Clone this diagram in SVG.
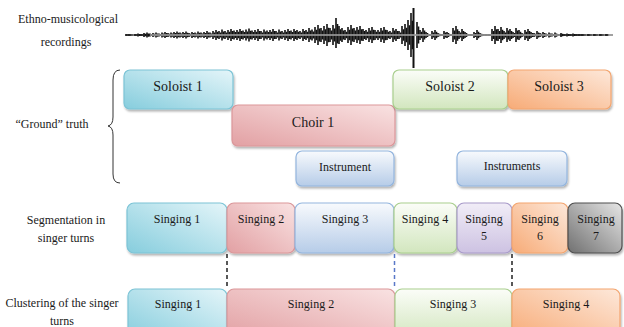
<svg xmlns="http://www.w3.org/2000/svg" width="624" height="327" viewBox="0 0 624 327">
<style>
.t{font-size:12px;fill:#1a1a1a;text-anchor:middle}
.b{font-size:14px}
.box{stroke-width:1.2;filter:url(#sh)}
.dash{fill:none;stroke-width:1.5;stroke-dasharray:4 3}
</style>
<defs>
<filter id="sh" x="-10%" y="-10%" width="120%" height="130%"><feDropShadow dx="1" dy="2" stdDeviation="1.2" flood-color="#000" flood-opacity="0.3"/></filter>
<linearGradient id="gC" x1="0" y1="1" x2="1" y2="0"><stop offset="0" stop-color="#86cddd"/><stop offset="1" stop-color="#e4f5f9"/></linearGradient>
<linearGradient id="gR" x1="0" y1="1" x2="1" y2="0"><stop offset="0" stop-color="#e2a0a3"/><stop offset="1" stop-color="#f9e2e2"/></linearGradient>
<linearGradient id="gB" x1="0" y1="0" x2="0" y2="1"><stop offset="0" stop-color="#f8fafd"/><stop offset="1" stop-color="#b6cce8"/></linearGradient>
<linearGradient id="gG" x1="0" y1="0" x2="0" y2="1"><stop offset="0" stop-color="#fbfdf8"/><stop offset="1" stop-color="#d2e6be"/></linearGradient>
<linearGradient id="gP" x1="0" y1="0" x2="0" y2="1"><stop offset="0" stop-color="#f1edf7"/><stop offset="1" stop-color="#cdc2e2"/></linearGradient>
<linearGradient id="gO" x1="0" y1="1" x2="1" y2="0"><stop offset="0" stop-color="#f7ab77"/><stop offset="1" stop-color="#fde8da"/></linearGradient>
<linearGradient id="gK" x1="0" y1="1" x2="1" y2="0"><stop offset="0" stop-color="#707070"/><stop offset="1" stop-color="#e6e6e6"/></linearGradient>
<path id="wv" fill="none" d="M126 34v2M129 34v2M132 34.5v1M135 34v2M138 33.5v3M141 34v2M144 33v4M147 32.5v5M150 33.5v3M153 33v4M156 32.5v5M159 33.5v3M162 32.5v5M165 32v6M168 33v4M171 32.5v5M174 32v6M177 31.5v7M180 32.5v5M183 32v6M186 31.5v7M189 33v4M192 32v6M195 32.5v5M198 31.5v7M201 32.5v5M204 32v6M207 31v8M210 32.5v5M213 31v8M216 30v10M219 31v8M222 29.5v11M225 31v8M228 30v10M231 29v12M234 30.5v9M237 30v10M240 29v12M243 30.5v9M246 29.5v11M249 28.5v13M252 30.5v9M255 30v10M258 29v12M261 31v8M264 29.5v11M267 30.5v9M270 30v10M273 29v12M276 31v8M279 29.5v11M282 31v8M285 30v10M288 29v12M291 30.5v9M294 29v12M297 30v10M300 31v8M303 29v12M306 30v10M309 28v14M312 29.5v11M315 27v16M318 25v20M321 28v14M324 26v18M327 24v22M330 28v14M333 25v20M336 18v30M339 26v18M342 28v14M345 30v10M348 27v16M351 25v20M354 28v14M357 27v16M360 26v18M363 29v12M366 30v10M369 28v14M372 27v16M375 30v10M378 30v10M381 28v14M384 27v16M387 30v10M390 31v8M393 28v14M396 29v12M399 31v8M402 26v18M405 24v22M408 20v30M411 13v44M417 22v26M420 30v10M423 28v14M426 32v6M429 34v2M432 31v8M435 30v10M438 33v4M441 34v2M444 31v8M447 32v6M450 34v2M453 28v14M456 26v18M459 31v8M462 29v12M465 32v6M468 34v2M471 34v2M474 32v6M477 30v10M480 33v4M483 34v2M486 34v2M489 34v2M492 29v12M495 26v18M498 29v12M501 27v16M504 31v8M507 28v14M510 29v12M513 32v6M516 28v14M519 30v10M522 33v4M525 30v10M528 29v12M531 32v6M534 33v4M537 31v8M540 33v4M543 32v6M546 33.5v3M549 32.5v5M552 33.5v3M555 32.5v5M558 34v2M561 33v4M564 34v2M567 33.5v3M570 34v2M573 33.5v3M576 34v2M579 34v2M582 34v2M585 34.5v1M588 34v2M591 34.5v1M594 34v2M597 34.5v1M600 34v2M603 34.5v1M606 34v2"/>
</defs>

<g id="waveform">
<path d="M126 35H613" stroke="#444" stroke-width="1.2"/>
<use href="#wv" stroke="#111" stroke-width="1.6"/>
<use href="#wv" stroke="#111" stroke-width="1.6" transform="translate(1.5,35) scale(1,0.65) translate(0,-35)"/>
<path d="M413.5 8V68" stroke="#111" stroke-width="2"/>
<path d="M150 35H560" stroke="#a8a8a8" stroke-width="1.3"/>
</g>

<g id="labels" font-family="'Liberation Serif', 'Times New Roman', serif" font-size="12" fill="#1a1a1a" text-anchor="middle">
<text x="68" y="23">Ethno-musicological</text>
<text x="66" y="46">recordings</text>
<text x="52" y="128">“Ground” truth</text>
<text x="66" y="224">Segmentation in</text>
<text x="66" y="242">singer turns</text>
<text x="62" y="307">Clustering of the singer</text>
<text x="62" y="325">turns</text>
<path d="M120 70 Q113 70 113 80 L113 117 Q113 125 108 126 Q113 127 113 135 L113 174 Q113 183 120 183" fill="none" stroke="#333" stroke-width="1"/>
</g>

<g id="connectors">
<path class="dash" d="M227 254V289" stroke="#222"/>
<path class="dash" d="M394.5 254V289" stroke="#5a78c8"/>
<path class="dash" d="M512 254V289" stroke="#222"/>
</g>

<g id="nodes" font-family="'Liberation Serif', 'Times New Roman', serif">
<g id="soloist1"><rect class="box" x="124" y="70" width="109" height="39" rx="6" fill="url(#gC)" stroke="#7cc4d6"/><text class="t b" x="178" y="91">Soloist 1</text></g>
<g id="choir1"><rect class="box" x="232" y="105" width="163" height="41" rx="6" fill="url(#gR)" stroke="#db979a"/><text class="t b" x="313" y="127">Choir 1</text></g>
<g id="instrument"><rect class="box" x="296" y="151" width="98" height="35" rx="6" fill="url(#gB)" stroke="#93b5de"/><text class="t" x="345" y="171">Instrument</text></g>
<g id="soloist2"><rect class="box" x="393" y="70" width="115" height="39" rx="6" fill="url(#gG)" stroke="#a9cf8e"/><text class="t b" x="450" y="91">Soloist 2</text></g>
<g id="soloist3"><rect class="box" x="508" y="70" width="103" height="39" rx="6" fill="url(#gO)" stroke="#f3a56f"/><text class="t b" x="559" y="91">Soloist 3</text></g>
<g id="instruments"><rect class="box" x="457" y="151" width="110" height="35" rx="6" fill="url(#gB)" stroke="#93b5de"/><text class="t" x="512" y="170">Instruments</text></g>

<g id="seg1"><rect class="box" x="127" y="203" width="100" height="50" rx="7" fill="url(#gC)" stroke="#7cc4d6"/><text class="t" x="177" y="223">Singing 1</text></g>
<g id="seg2"><rect class="box" x="227" y="203" width="68" height="50" rx="7" fill="url(#gR)" stroke="#db979a"/><text class="t" x="261" y="223">Singing 2</text></g>
<g id="seg3"><rect class="box" x="295" y="203" width="99" height="50" rx="7" fill="url(#gB)" stroke="#93b5de"/><text class="t" x="345" y="223">Singing 3</text></g>
<g id="seg4"><rect class="box" x="394" y="203" width="63" height="50" rx="7" fill="url(#gG)" stroke="#a9cf8e"/><text class="t" x="425" y="223">Singing 4</text></g>
<g id="seg5"><rect class="box" x="457" y="203" width="55" height="50" rx="7" fill="url(#gP)" stroke="#a99bca"/><text class="t" x="484" y="223">Singing</text><text class="t" x="484" y="240">5</text></g>
<g id="seg6"><rect class="box" x="512" y="203" width="56" height="50" rx="7" fill="url(#gO)" stroke="#f3a56f"/><text class="t" x="540" y="223">Singing</text><text class="t" x="540" y="240">6</text></g>
<g id="seg7"><rect class="box" x="568" y="203" width="54" height="50" rx="7" fill="url(#gK)" stroke="#4f4f4f"/><text class="t" x="596" y="223">Singing</text><text class="t" x="596" y="240">7</text></g>

<g id="clu1"><rect class="box" x="128" y="289" width="99" height="50" rx="7" fill="url(#gC)" stroke="#7cc4d6"/><text class="t" x="178" y="308">Singing 1</text></g>
<g id="clu2"><rect class="box" x="227" y="289" width="168" height="50" rx="7" fill="url(#gR)" stroke="#db979a"/><text class="t" x="311" y="308">Singing 2</text></g>
<g id="clu3"><rect class="box" x="395" y="289" width="117" height="50" rx="7" fill="url(#gG)" stroke="#a9cf8e"/><text class="t" x="453" y="308">Singing 3</text></g>
<g id="clu4"><rect class="box" x="512" y="289" width="108" height="50" rx="7" fill="url(#gO)" stroke="#f3a56f"/><text class="t" x="566" y="308">Singing 4</text></g>
</g>
</svg>
